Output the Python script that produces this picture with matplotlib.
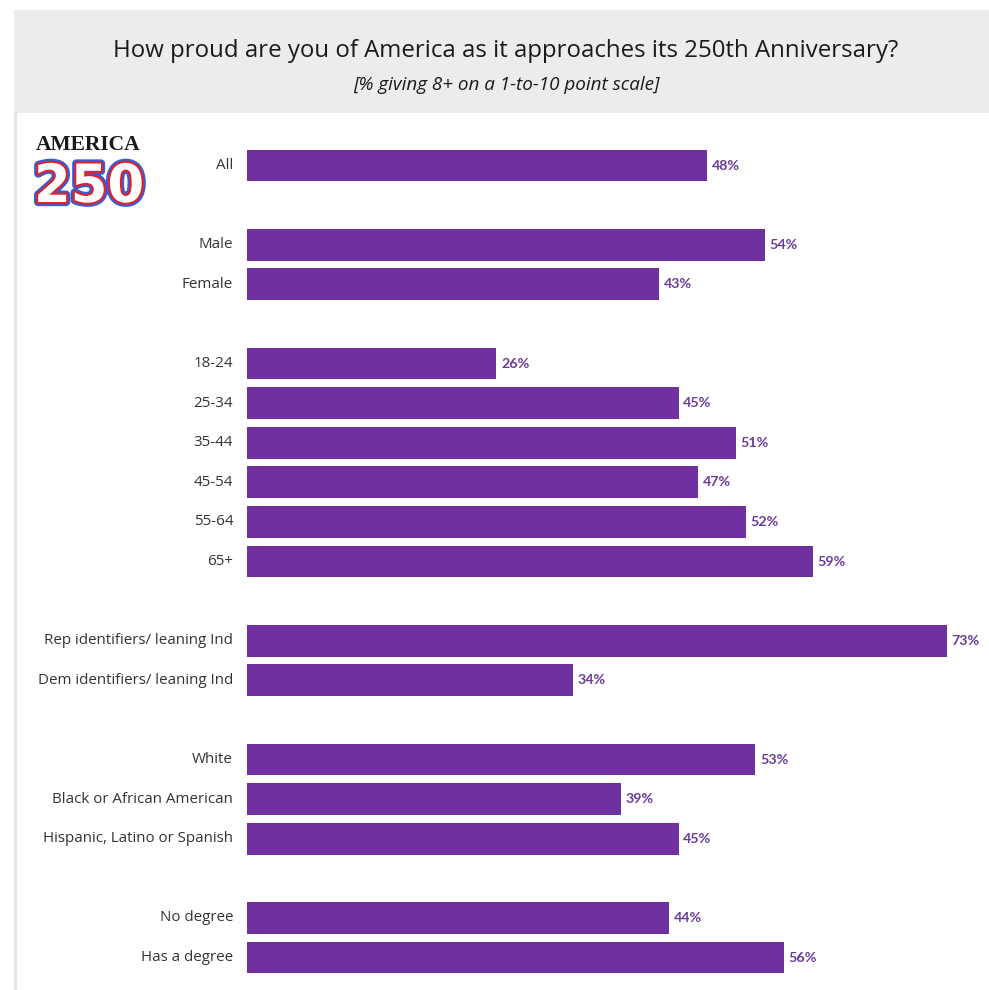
import matplotlib
matplotlib.use("Agg")
import matplotlib.pyplot as plt
from matplotlib.patches import Rectangle
from matplotlib.lines import Line2D
import matplotlib.patheffects as pe

# Survey groups (top to bottom) and the share giving 8+ on a 1-10 scale
categories = ["All",
              "Male", "Female",
              "18-24", "25-34", "35-44", "45-54", "55-64", "65+",
              "Rep identifiers/ leaning Ind", "Dem identifiers/ leaning Ind",
              "White", "Black or African American", "Hispanic, Latino or Spanish",
              "No degree", "Has a degree"]
values = [48,
          54, 43,
          26, 45, 51, 47, 52, 59,
          73, 34,
          53, 39, 45,
          44, 56]
# Row slots: blank slots separate the groups
slots = [0,
         2, 3,
         5, 6, 7, 8, 9, 10,
         12, 13,
         15, 16, 17,
         19, 20]

title = "How proud are you of America as it approaches its 250th Anniversary?"
subtitle = "[% giving 8+ on a 1-to-10 point scale]"

W, H = 989, 990
fig = plt.figure(figsize=(W / 100, H / 100), dpi=100)
fig.patch.set_facecolor("white")

def fx(px):
    return px / W

def fy(py):
    return 1 - py / H

# Header band
fig.add_artist(Rectangle((fx(14), fy(113)), fx(989) - fx(14), fy(10) - fy(113),
                         transform=fig.transFigure, facecolor="#ececec",
                         edgecolor="none", zorder=0))
# Left border of the chart panel
fig.add_artist(Line2D([fx(15), fx(15)], [fy(113), fy(990)],
                      transform=fig.transFigure, color="#e4e4e4", lw=2, zorder=0))

fig.text(fx(506), fy(51), title, ha="center", va="center", fontsize=17.3,
         family="Open Sans", color="#1a1a1a")
fig.text(fx(506), fy(85), subtitle, ha="center", va="center", fontsize=13.6,
         family="Open Sans", style="italic", color="#1a1a1a")

# Bar panel
px_per_pct = (947 - 247) / 73
slot0, slot_step = 165.5, 39.6
ax_left, ax_right, ax_top, ax_bottom = 247, 989, 113, 990
ax = fig.add_axes([fx(ax_left), fy(ax_bottom), fx(ax_right) - fx(ax_left),
                   fy(ax_top) - fy(ax_bottom)])
ax.set_xlim(0, (ax_right - ax_left) / px_per_pct)
ax.set_ylim((ax_bottom - slot0) / slot_step, (ax_top - slot0) / slot_step)
ax.axis("off")

bar_color = "#7030a0"
ax.barh(slots, values, height=0.8, color=bar_color, edgecolor="none")
for s, v, c in zip(slots, values, categories):
    ax.text(v + 0.5, s, f"{v}%", ha="left", va="center", fontsize=10.3,
            fontweight="bold", family="Lato", color="#6b3a9a")
    ax.text(-1.45, s, c, ha="right", va="center", fontsize=10.9,
            family="Open Sans", color="#333333")

# AMERICA 250 emblem
fig.text(fx(88), fy(145), "AMERICA", ha="center", va="center", fontsize=15.5,
         family="Liberation Serif", fontweight="bold", color="#1a1a1a")
fig.text(fx(89), fy(187), "250", ha="center", va="center", fontsize=38,
         family="DejaVu Sans", fontweight="bold", color="white",
         path_effects=[pe.withStroke(linewidth=6, foreground="#3b5bd6"),
                       pe.withStroke(linewidth=3, foreground="#e0202a")])

fig.savefig("out.png", dpi=100, facecolor="white")
